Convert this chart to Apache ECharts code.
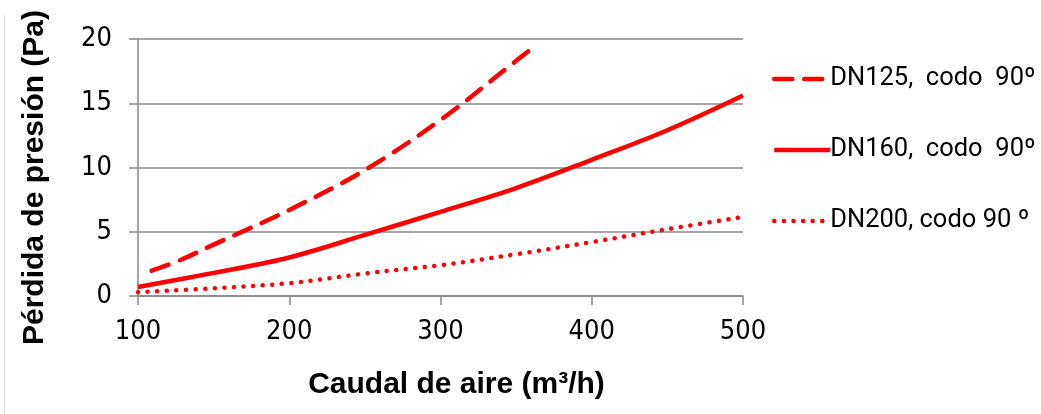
<!DOCTYPE html>
<html><head><meta charset="utf-8">
<script src="https://cdn.jsdelivr.net/npm/echarts@6/dist/echarts.min.js"></script>
<style>html,body{margin:0;padding:0;background:#fff}#c{width:1041px;height:414px}</style>
</head><body><div id="c"></div>
<script>
const seriesNames = ['DN125,  codo  90º', 'DN160,  codo  90º', 'DN200, codo 90 º'];
const dn125 = [[109, 1.97], [128, 2.8], [150, 4.0], [200, 6.7], [250, 9.8], [300, 13.7], [350, 18.3], [364, 19.6]];
const dn160 = [[100, 0.7], [150, 1.8], [200, 3.0], [250, 4.75], [300, 6.55], [350, 8.4], [400, 10.6], [450, 12.9], [500, 15.6]];
const dn200 = [[100, 0.3], [150, 0.6], [200, 1.0], [250, 1.75], [300, 2.4], [350, 3.25], [400, 4.2], [450, 5.2], [500, 6.15]];
const xTicks = [100, 200, 300, 400, 500];
const yTicks = [0, 5, 10, 15, 20];

const chart = echarts.init(document.getElementById('c'));
const tickFont = '"Liberation Sans Narrow", "DejaVu Sans Condensed", sans-serif';
const titleFont = '"Liberation Sans", Arial, sans-serif';
chart.setOption({
  animation: false,
  backgroundColor: '#fff',
  grid: { left: 138, right: 298, top: 39, bottom: 118, containLabel: false },
  xAxis: {
    type: 'value', min: xTicks[0], max: xTicks[xTicks.length - 1], interval: 100,
    name: 'Caudal de aire (m³/h)', nameLocation: 'middle', nameGap: 74,
    nameTextStyle: { fontFamily: titleFont, fontWeight: 'bold', fontSize: 30, color: '#000', padding: [0, 0, 0, 32] },
    axisLine: { show: true, lineStyle: { color: '#888', width: 1.5 } },
    axisTick: { show: true, length: 9, lineStyle: { color: '#888', width: 1.5 } },
    axisLabel: { fontFamily: tickFont, fontSize: 27, color: '#000', margin: 22 },
    splitLine: { show: false }
  },
  yAxis: {
    type: 'value', min: yTicks[0], max: yTicks[yTicks.length - 1], interval: 5,
    name: 'Pérdida de presión (Pa)', nameLocation: 'middle', nameGap: 88,
    nameTextStyle: { fontFamily: titleFont, fontWeight: 'bold', fontSize: 30, color: '#000', padding: [0, 20, 0, 0] },
    axisLine: { show: true, lineStyle: { color: '#888', width: 1.5 } },
    axisTick: { show: true, length: 9, lineStyle: { color: '#888', width: 1.5 } },
    axisLabel: { fontFamily: tickFont, fontSize: 27, color: '#000', margin: 26 },
    splitLine: { show: true, lineStyle: { color: '#888', width: 1.5 } }
  },
  legend: {
    orient: 'vertical', left: 767, top: 61, itemWidth: 56, itemHeight: 14, itemGap: 45,
    itemStyle: { opacity: 0 },
    lineStyle: { width: 4.5 },
    textStyle: { fontFamily: 'Roboto, sans-serif', fontSize: 25.5, color: '#000', padding: [0, 0, 0, -5] },
    data: seriesNames
  },
  graphic: [
    { type: 'line', shape: { x1: 4.5, y1: 15, x2: 4.5, y2: 414 }, style: { stroke: '#e4e4e4', lineWidth: 1 } }
  ],
  series: [
    { name: seriesNames[0], type: 'line', data: dn125, smooth: 0.35, symbol: 'none', color: '#ff0000',
      lineStyle: { color: '#ff0000', width: 4.5, type: [18, 12], cap: 'round' } },
    { name: seriesNames[1], type: 'line', data: dn160, smooth: 0.35, symbol: 'none', color: '#ff0000',
      lineStyle: { color: '#ff0000', width: 4.5, type: 'solid' } },
    { name: seriesNames[2], type: 'line', data: dn200, smooth: 0.35, symbol: 'none', color: '#ff0000',
      lineStyle: { color: '#ff0000', width: 4.5, type: [0.1, 9.5], cap: 'round' } }
  ]
});
</script></body></html>
